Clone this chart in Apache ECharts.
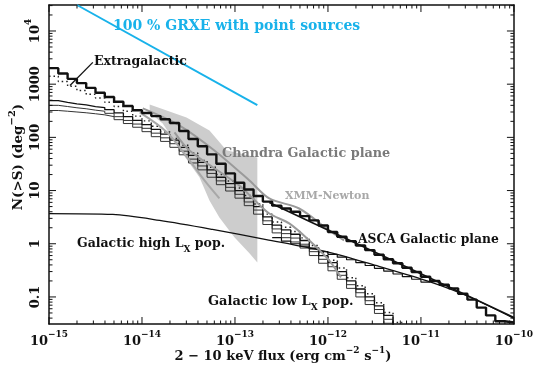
<!DOCTYPE html>
<html>
<head>
<meta charset="utf-8">
<script src="https://cdn.jsdelivr.net/npm/echarts@6/dist/echarts.min.js"></script>
<style>html,body{margin:0;padding:0;background:#fff}#chart{width:536px;height:374px}</style>
</head>
<body>
<div id="chart"></div>
<script>
// bin edges of the stepped curves, log10 of flux
var binExp = [-15.0,-14.9,-14.8,-14.7,-14.6,-14.5,-14.4,-14.3,-14.2,-14.1,
              -14.0,-13.9,-13.8,-13.7,-13.6,-13.5,-13.4,-13.3,-13.2,-13.1,
              -13.0,-12.9,-12.8,-12.7,-12.6,-12.5,-12.4,-12.3,-12.2,-12.1,
              -12.0,-11.9,-11.8,-11.7,-11.6,-11.5,-11.4,-11.3,-11.2,-11.1,
              -11.0,-10.9,-10.8,-10.7,-10.6,-10.5,-10.4,-10.3,-10.2,-10.1,-10.0];

// upper (thick) stepped curve
var totalUpper = [2000,1585,1259,1047,851,692,575,468,389,324,
                  288,251,219,186,132,93,68,48,32,21,
                  14,10.5,7.9,6.2,5.2,4.6,4.0,3.3,2.75,2.2,
                  1.66,1.35,1.12,0.93,0.76,0.62,0.51,0.43,0.355,0.295,
                  0.24,0.2,0.17,0.145,0.115,0.089,0.063,0.045,0.035,0.033];
// dotted stepped curve
var extraMid = [1413,1122,912,759,646,550,457,380,309,251,
                204,162,126,95,71,51,37,27.5,20,15.1,
                11.2,8.1,5.6,3.6,2.57,2.04,1.7,1.29,0.93,0.68,
                0.49,0.35,0.23,0.162,0.115,0.078,0.051,0.033];
// hatched lower band, three stepped edges
var lowBand1 = [490,457,427,407,380,363,331,288,245,209,
                174,141,115,89,65,46,34,24.5,17.8,13.5,
                10,7.2,5.0,3.2,2.24,1.82,1.51,1.15,0.83,0.6,
                0.44,0.30,0.20,0.141,0.10,0.068,0.045,0.028];
var lowBand2 = [400,380,360,345,325,310,283,245,208,178,
                148,120,98,76,55,39,29,21,15.2,11.5,
                8.5,6.1,4.3,2.7,1.9,1.55,1.28,0.98,0.71,0.51,
                0.37,0.255,0.17,0.12,0.085,0.058,0.038,0.025];
var lowBand3 = [320,310,300,290,278,265,245,215,182,155,
                128,103,84,65,47,33,24.5,17.8,12.9,9.8,
                7.2,5.2,3.6,2.3,1.6,1.3,1.08,0.83,0.6,0.43,
                0.31,0.215,0.145,0.1,0.072,0.049,0.032,0.021];
// galactic stepped curve joining the ASCA line, starts at bin 24 (-12.6)
var galStepStart = 24;
var galStep = [1.3,1.12,1.0,0.9,0.8,0.71,0.63,0.56,0.5,0.44,
               0.39,0.345,0.305,0.27,0.24,0.215,0.19];

// smooth curves [flux, N(>S)]
var highLx = [[1e-15,3.7],[4.85e-15,3.56],[1.55e-14,2.75],[5.73e-14,1.86],[2.17e-13,1.2],
              [1.03e-12,0.69],[3.53e-12,0.375],[1.21e-11,0.196],[3.25e-11,0.102],[1e-10,0.0395]];
var asca = [[2.34e-13,5.98],[1e-10,0.041]];
var xmmA = [[1.02e-14,350],[2.54e-14,167],[6.01e-14,56.8],[1.43e-13,15.5],[2.34e-13,7.1],
            [4.9e-13,4.6],[1.03e-12,1.78],[1.49e-12,1.16]];
var xmmB = [[9.44e-15,294],[1.84e-14,126],[3.24e-14,36.8],[4.7e-14,15.5],[6.8e-14,7.1]];
var xmmC = [[2.24e-14,124],[3.24e-14,56.8],[1.11e-13,12.5],[1.61e-13,6.7],[2.34e-13,3.7],
            [3.83e-13,2.41],[6.27e-13,1.16],[1.03e-12,0.486],[1.38e-12,0.233]];
var grxe = [[2e-15,30800],[1.74e-13,406]];
var extraPointer = [[2.96e-15,2570],[1.68e-15,946]];
// Chandra shaded region: upper edge left->right, lower edge right->left
var chandraUpper = [[1.21e-14,416],[3.01e-14,237],[5.32e-14,135],[8.09e-14,57],[1.74e-13,42]];
var chandraLower = [[1.74e-13,0.446],[1.43e-13,0.66],[9.86e-14,1.32],[6.8e-14,3.13],[5.32e-14,6.5],
                    [4.15e-14,17.7],[2.73e-14,50],[1.67e-14,183],[1.21e-14,294]];

var xDecades = [-15,-14,-13,-12,-11,-10];
var yDecades = [-2,-1,0,1,2,3,4];
var minorSteps = [2,3,4,5,6,7,8,9];

var FONT = 'DejaVu Serif';
var X_MIN = 1e-15, X_MAX = 1e-10, Y_MIN = 0.031, Y_MAX = 30800;

function stepData(vals, start) {
    var out = [];
    for (var i = 0; i < vals.length; i++) {
        out.push([Math.pow(10, binExp[start + i]), vals[i]]);
    }
    out.push([Math.pow(10, binExp[start + vals.length]), vals[vals.length - 1]]);
    return out;
}

function pow10Label(v) {
    var e = Math.log(v) / Math.LN10;
    var r = Math.round(e);
    if (Math.abs(e - r) > 0.01) return '';
    return r;
}

var xTicks = [], yTicks = [];
xDecades.forEach(function (d) {
    xTicks.push([Math.pow(10, d), 1, 7]);
    if (d < -10) minorSteps.forEach(function (m) { xTicks.push([m * Math.pow(10, d), 1, 3.5]); });
});
yDecades.forEach(function (d) {
    var v = Math.pow(10, d);
    if (v >= Y_MIN && v <= Y_MAX) yTicks.push([1e-12, v, 7]);
    minorSteps.forEach(function (m) {
        var mv = m * v;
        if (mv >= Y_MIN && mv <= Y_MAX) yTicks.push([1e-12, mv, 3.5]);
    });
});

var chart = echarts.init(document.getElementById('chart'));

var supRich = {
    b: { fontFamily: FONT, fontWeight: 'bold', fontSize: 13, color: '#111', lineHeight: 18, verticalAlign: 'bottom' },
    s: { fontFamily: FONT, fontWeight: 'bold', fontSize: 9, color: '#111', lineHeight: 10, verticalAlign: 'top' }
};

function lineSeries(data, color, width, extra) {
    var s = {
        type: 'line', data: data, showSymbol: false, silent: true,
        lineStyle: { color: color, width: width }
    };
    for (var k in extra) s[k] = extra[k];
    return s;
}

// free text with optional {sub|..} / {sup|..} parts
function label(text, x, y, size, color, rot, align) {
    var c = color || '#111';
    var small = Math.round(size * 0.72);
    return {
        type: 'text', x: x, y: y, rotation: rot || 0, z: 50,
        style: {
            text: text, fill: c, font: 'bold ' + size + 'px "DejaVu Serif"',
            textAlign: align || 'left', textVerticalAlign: 'middle',
            rich: {
                n: { font: 'bold ' + size + 'px "DejaVu Serif"', fill: c, lineHeight: size + 8, verticalAlign: 'middle' },
                sub: { font: 'bold ' + small + 'px "DejaVu Serif"', fill: c, lineHeight: small, verticalAlign: 'bottom' },
                sup: { font: 'bold ' + small + 'px "DejaVu Serif"', fill: c, lineHeight: small, verticalAlign: 'top' }
            }
        }
    };
}

var option = {
    animation: false,
    backgroundColor: '#fff',
    grid: { left: 49, right: 21, top: 5, bottom: 50 },
    xAxis: [
        {
            type: 'log', min: X_MIN, max: X_MAX, position: 'bottom',
            axisLine: { lineStyle: { color: '#111', width: 1.5 } },
            axisTick: { show: false }, splitLine: { show: false },
            axisLabel: {
                margin: 6, showMinLabel: true, showMaxLabel: true,
                formatter: function (v) {
                    var e = pow10Label(v);
                    if (e === '') return '';
                    return '{b|10}{s|' + (e < 0 ? '\u2212' + (-e) : e) + '}';
                },
                rich: supRich
            }
        },
        {
            type: 'log', min: X_MIN, max: X_MAX, position: 'top',
            axisLine: { lineStyle: { color: '#111', width: 1.5 } },
            axisTick: { show: false }, axisLabel: { show: false }, splitLine: { show: false }
        }
    ],
    yAxis: [
        {
            type: 'log', min: Y_MIN, max: Y_MAX, position: 'left',
            axisLine: { show: true, lineStyle: { color: '#111', width: 1.5 } },
            axisTick: { show: false }, splitLine: { show: false },
            axisLabel: {
                margin: 7, rotate: 90, showMinLabel: false, showMaxLabel: false,
                formatter: function (v) {
                    var e = pow10Label(v);
                    if (e === '') return '';
                    if (e === 4) return '{b|10}{s|4}';
                    return '{b|' + (e < 0 ? '0.1' : Math.pow(10, e)) + '}';
                },
                rich: supRich
            }
        },
        {
            type: 'log', min: Y_MIN, max: Y_MAX, position: 'right',
            axisLine: { show: true, lineStyle: { color: '#111', width: 1.5 } },
            axisTick: { show: false }, axisLabel: { show: false }, splitLine: { show: false }
        }
    ],
    series: [
        {
            type: 'custom', silent: true, z: 1, data: [[1e-13, 1]],
            renderItem: function (params, api) {
                var pts = chandraUpper.concat(chandraLower).map(function (p) { return api.coord(p); });
                return { type: 'polygon', shape: { points: pts }, style: { fill: '#cdcdcd' } };
            }
        },
        lineSeries(stepData(lowBand3, 0), '#333', 1, { step: 'end', z: 3 }),
        lineSeries(stepData(lowBand2, 0), '#333', 1, { step: 'end', z: 3 }),
        lineSeries(stepData(lowBand1, 0), '#111', 1.3, { step: 'end', z: 3 }),
        lineSeries(stepData(extraMid, 0), '#222', 1.3, { step: 'end', z: 3, lineStyle: { color: '#222', width: 1.4, type: [1.5, 3] } }),
        lineSeries(stepData(galStep, galStepStart), '#111', 1.2, { step: 'end', z: 3 }),
        lineSeries(highLx, '#111', 1.3, { smooth: 0.3, z: 3 }),
        lineSeries(xmmA, '#9a9a9a', 2, { smooth: 0.3, z: 4 }),
        lineSeries(xmmB, '#a8a8a8', 2, { smooth: 0.3, z: 4 }),
        lineSeries(xmmC, '#9a9a9a', 2, { smooth: 0.3, z: 4 }),
        lineSeries(asca, '#111', 1.6, { z: 5 }),
        lineSeries(stepData(totalUpper, 0), '#111', 2.4, { step: 'end', z: 6 }),
        lineSeries(grxe, '#18b2ea', 2, { z: 6 }),
        lineSeries(extraPointer, '#111', 1.3, { z: 6 }),
        {
            type: 'custom', silent: true, z: 10, data: xTicks,
            renderItem: function (params, api) {
                var cs = params.coordSys, len = api.value(2);
                var px = api.coord([api.value(0), 1])[0];
                var st = { stroke: '#111', lineWidth: 1 };
                return { type: 'group', children: [
                    { type: 'line', shape: { x1: px, y1: cs.y + cs.height, x2: px, y2: cs.y + cs.height - len }, style: st },
                    { type: 'line', shape: { x1: px, y1: cs.y, x2: px, y2: cs.y + len }, style: st }
                ] };
            }
        },
        {
            type: 'custom', silent: true, z: 10, data: yTicks,
            renderItem: function (params, api) {
                var cs = params.coordSys, len = api.value(2);
                var py = api.coord([1e-12, api.value(1)])[1];
                var st = { stroke: '#111', lineWidth: 1 };
                return { type: 'group', children: [
                    { type: 'line', shape: { x1: cs.x, y1: py, x2: cs.x + len, y2: py }, style: st },
                    { type: 'line', shape: { x1: cs.x + cs.width, y1: py, x2: cs.x + cs.width - len, y2: py }, style: st }
                ] };
            }
        }
    ],
    graphic: [
        label('{n|100 % GRXE with point sources}', 113, 26, 14, '#18b2ea'),
        label('{n|Extragalactic}', 94, 62, 12.5),
        label('{n|Chandra Galactic plane}', 222, 154, 12.8, '#7a7a7a'),
        label('{n|XMM-Newton}', 285, 196, 11, '#a8a8a8'),
        label('{n|ASCA Galactic plane}', 358, 240, 12.3),
        label('{n|Galactic high L}{sub|X}{n| pop.}', 77, 244, 12.5),
        label('{n|Galactic low L}{sub|X}{n| pop.}', 208, 302, 13),
        label('{n|N(>S) (deg}{sup|\u22122}{n|)}', 18, 157, 13.5, '#111', Math.PI / 2, 'center'),
        label('{n|2 \u2212 10 keV flux (erg cm}{sup|\u22122}{n| s}{sup|\u22121}{n|)}', 283, 357, 13, '#111', 0, 'center')
    ]
};

chart.setOption(option);
</script>
</body>
</html>
